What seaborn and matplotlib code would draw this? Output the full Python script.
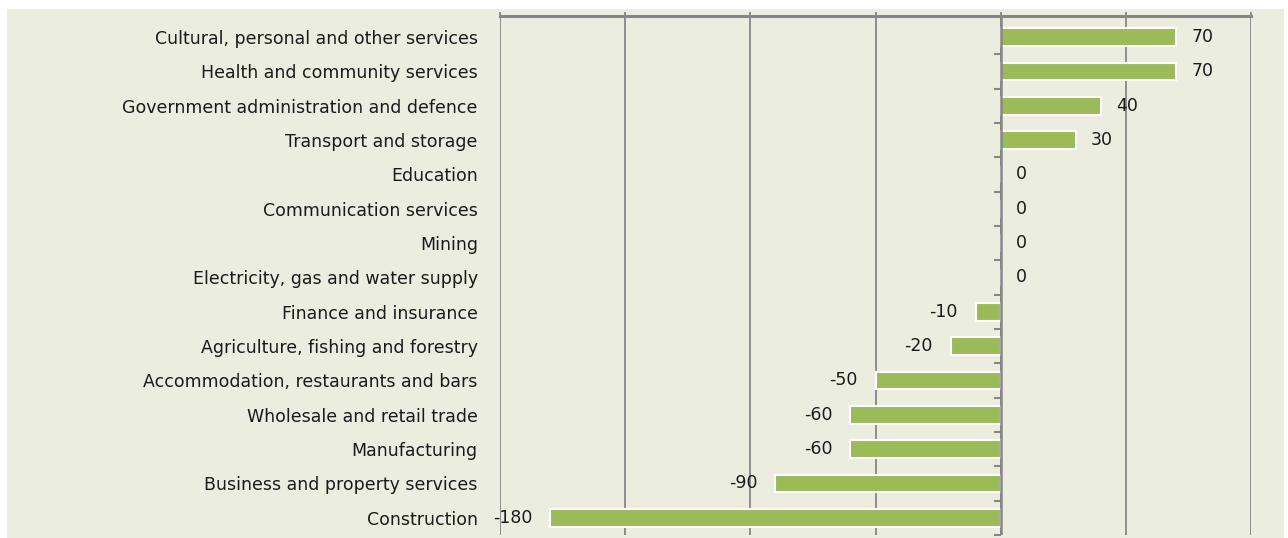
import matplotlib
matplotlib.use("Agg")
import matplotlib.pyplot as plt
import seaborn as sns
import pandas as pd
import numpy as np
from matplotlib.patches import Rectangle

categories = [
    "Cultural, personal and other services",
    "Health and community services",
    "Government administration and defence",
    "Transport and storage",
    "Education",
    "Communication services",
    "Mining",
    "Electricity, gas and water supply",
    "Finance and insurance",
    "Agriculture, fishing and forestry",
    "Accommodation, restaurants and bars",
    "Wholesale and retail trade",
    "Manufacturing",
    "Business and property services",
    "Construction",
]
values = [70, 70, 40, 30, 0, 0, 0, 0, -10, -20, -50, -60, -60, -90, -180]
x_ticks = [-200, -150, -100, -50, 0, 50, 100]

BG = "#EBEEDF"
GRID = "#868686"
BAR = "#9BBB59"
TXT = "#1A1A1A"
FS = 12.5

sns.set_theme(style="white")
plt.rcParams["font.family"] = ["DejaVu Sans"]

df = pd.DataFrame({"category": categories, "value": values})

fig = plt.figure(figsize=(12.88, 5.38), dpi=100, facecolor="white")
fig.patches.append(Rectangle((7 / 1288, 0), (1284 - 7) / 1288, 1 - 9 / 538,
                             transform=fig.transFigure, facecolor=BG,
                             edgecolor="none", zorder=-10))
ax = fig.add_axes([500 / 1288, 3 / 538, (1251 - 500) / 1288, (535 - 15.5) / 538])
ax.set_facecolor(BG)

sns.barplot(data=df, y="category", x="value", orient="h", color=BAR,
            saturation=1, width=0.52, edgecolor="white", linewidth=1.5, ax=ax,
            zorder=3)

ax.set_xlim(x_ticks[0], x_ticks[-1])
ax.set_xticks(x_ticks)
ax.set_ylim(len(categories) - 0.5, -0.63)
ax.set_xlabel("")
ax.set_ylabel("")

ax.grid(axis="x", color=GRID, linewidth=1.3, zorder=0)
ax.grid(axis="y", visible=False)
for s in ["left", "right", "bottom"]:
    ax.spines[s].set_visible(False)
ax.spines["top"].set_visible(True)
ax.spines["top"].set_color(GRID)
ax.spines["top"].set_linewidth(2.2)

ax.xaxis.tick_top()
ax.tick_params(axis="x", which="both", top=True, bottom=False, labeltop=False,
               labelbottom=False, length=3, width=1.3, color=GRID, direction="out")
ax.tick_params(axis="y", length=0, pad=16, labelsize=FS, labelcolor=TXT)

# zero line with small tick marks between categories
ax.axvline(0, color=GRID, linewidth=1.8, zorder=4)
bounds = np.arange(len(categories)) + 0.5
ax.plot(np.zeros_like(bounds), bounds, linestyle="none", marker=0,
        markersize=5, markeredgewidth=1.5, color=GRID, zorder=4, clip_on=False)

for i, v in enumerate(values):
    if v >= 0:
        ax.annotate(f"{v}", (v, i), xytext=(11, 0), textcoords="offset points",
                    ha="left", va="center", fontsize=FS, color=TXT, zorder=5)
    else:
        ax.annotate(f"{v}", (v, i), xytext=(-13, 0), textcoords="offset points",
                    ha="right", va="center", fontsize=FS, color=TXT, zorder=5)

fig.savefig("out.png", dpi=100, facecolor="white")
